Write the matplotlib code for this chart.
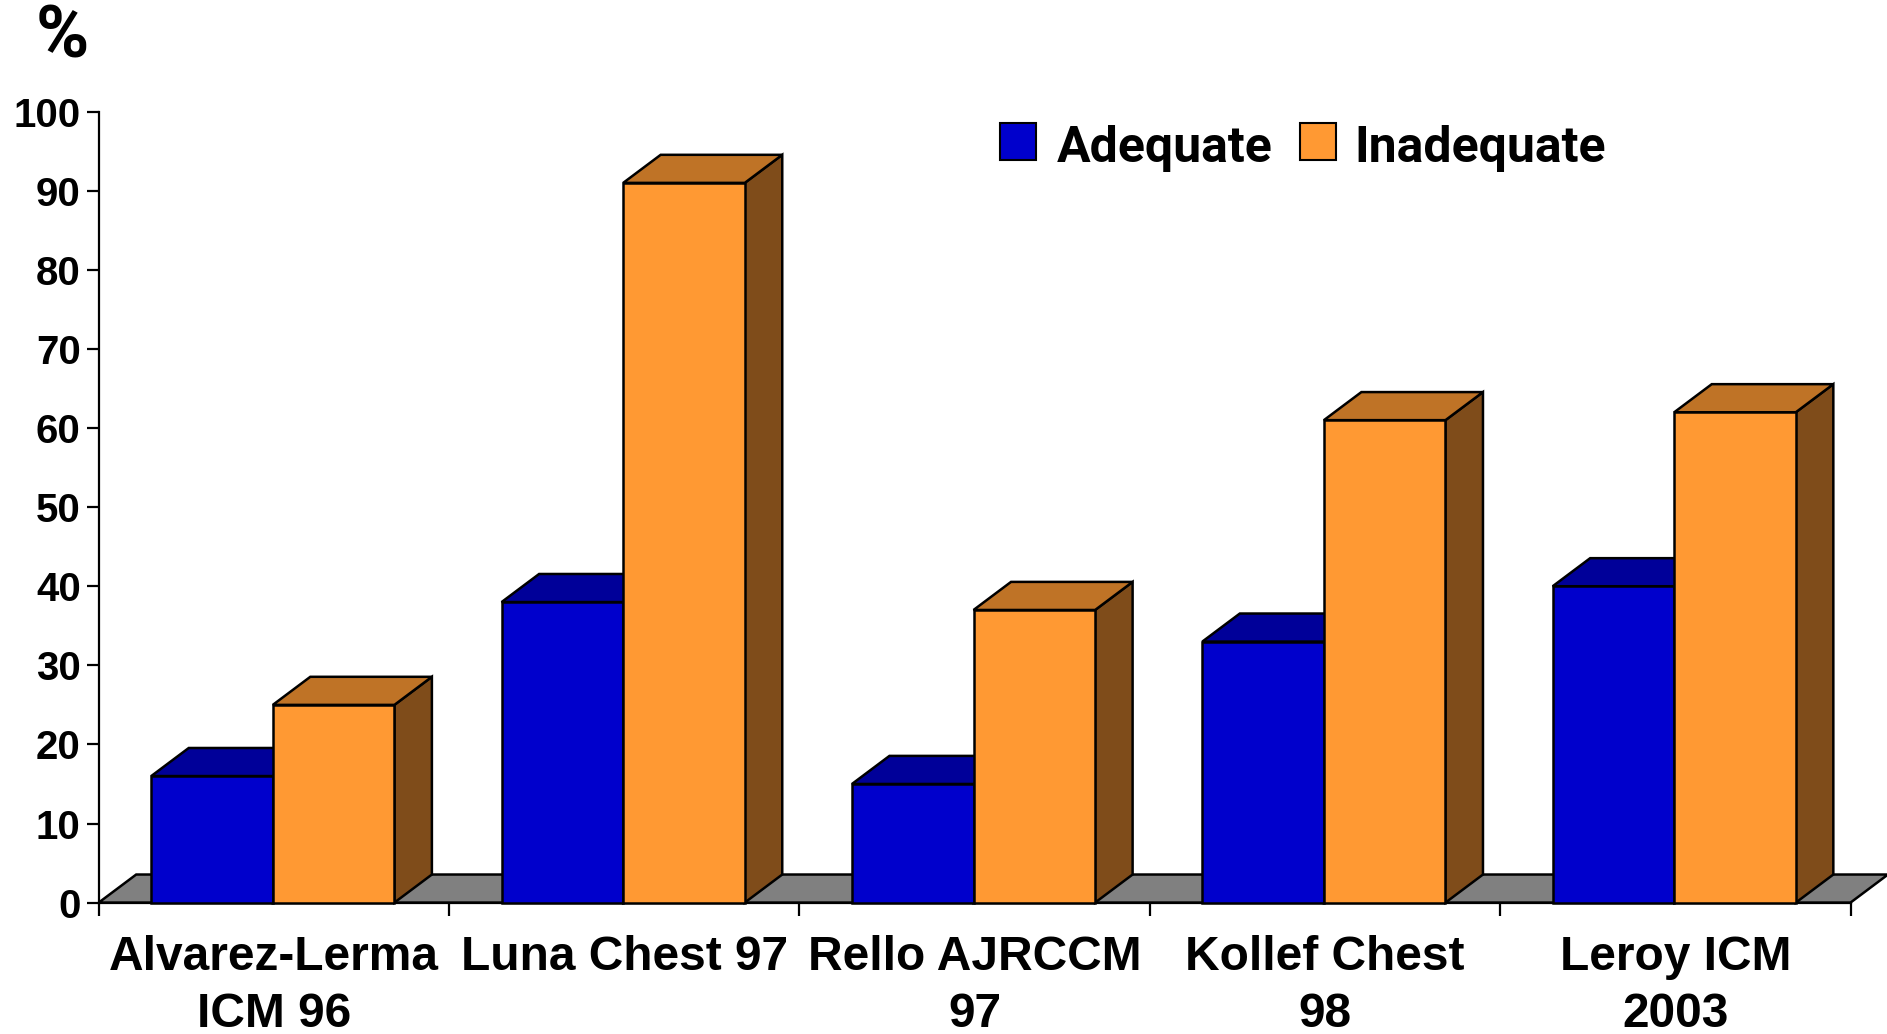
import matplotlib
matplotlib.use("Agg")
import matplotlib.pyplot as plt
from matplotlib.patches import Polygon, Rectangle

# ---- data -------------------------------------------------------------
studies = ["Alvarez-Lerma\nICM 96", "Luna Chest 97", "Rello AJRCCM\n97",
           "Kollef Chest\n98", "Leroy ICM\n2003"]
adequate = [16, 38, 15, 33, 40]
inadequate = [25, 91, 37, 61, 62]
series_names = ["Adequate", "Inadequate"]
y_ticks = [0, 10, 20, 30, 40, 50, 60, 70, 80, 90, 100]

# ---- styling ----------------------------------------------------------
BLUE = {"front": "#0000CC", "top": "#000099", "side": "#000066"}
ORANGE = {"front": "#FF9933", "top": "#BF7326", "side": "#7F4C1A"}
FLOOR = "#808080"
EDGE_LW = 1.8
BAR_OFFSET = 0.150   # gap from category start to first bar (category units)
BAR_W = 0.347        # bar width (category units)
DX = 0.107           # depth offset in x (category units)
DY = 3.55            # depth offset in y (value units)

W_PX, H_PX = 1887, 1034
fig = plt.figure(figsize=(W_PX / 100, H_PX / 100), dpi=100)
x_left, x_right = 98.7, 1850.5
y_top, y_zero = 111.7, 902.6
ax = fig.add_axes([x_left / W_PX, (H_PX - y_zero) / H_PX,
                   (x_right - x_left) / W_PX, (y_zero - y_top) / H_PX])
ax.set_xlim(0, len(studies))
ax.set_ylim(0, 100)
for s in ("top", "right"):
    ax.spines[s].set_visible(False)
for s in ("left", "bottom"):
    ax.spines[s].set_linewidth(1.6)
    ax.spines[s].set_zorder(1)

n = len(studies)

# floor of the 3-D plot area
floor = Polygon([(0, 0), (n, 0), (n + DX, DY), (DX, DY)], closed=True,
                facecolor=FLOOR, edgecolor="black", lw=EDGE_LW,
                joinstyle="miter", clip_on=False, zorder=0.5)
ax.add_patch(floor)


def draw_box(x, w, h, col, z):
    side = Polygon([(x + w, 0), (x + w + DX, DY), (x + w + DX, h + DY), (x + w, h)],
                   closed=True, facecolor=col["side"], edgecolor="black",
                   lw=EDGE_LW, joinstyle="miter", clip_on=False, zorder=z)
    top = Polygon([(x, h), (x + w, h), (x + w + DX, h + DY), (x + DX, h + DY)],
                  closed=True, facecolor=col["top"], edgecolor="black",
                  lw=EDGE_LW, joinstyle="miter", clip_on=False, zorder=z)
    front = Rectangle((x, 0), w, h, facecolor=col["front"], edgecolor="black",
                      lw=EDGE_LW, joinstyle="miter", clip_on=False, zorder=z + 0.01)
    for p in (side, top, front):
        ax.add_patch(p)


z = 2
for i in range(n):
    x0 = i + BAR_OFFSET
    draw_box(x0, BAR_W, adequate[i], BLUE, z)
    z += 0.1
    draw_box(x0 + BAR_W, BAR_W, inadequate[i], ORANGE, z)
    z += 0.1

# axes ticks and labels
tick_font = dict(family=["Liberation Sans", "DejaVu Sans"], weight="bold")
ax.set_yticks(y_ticks)
ax.set_yticklabels([str(v) for v in y_ticks], fontsize=29, **tick_font)
ax.tick_params(axis="y", length=9, width=1.6, pad=4, direction="out")

ax.set_xticks(range(n + 1))
ax.set_xticklabels([""] * (n + 1))
ax.tick_params(axis="x", which="major", length=9.5, width=1.6, direction="out")
ax.set_xticks([i + 0.5 for i in range(n)], minor=True)
ax.set_xticklabels(studies, minor=True, fontsize=34.5, linespacing=1.36,
                   **tick_font)
ax.tick_params(axis="x", which="minor", length=0, pad=23)

# "%" unit label above the value axis
fig.text(62 / W_PX, 1 - 38 / H_PX, "%", fontsize=52, weight="bold",
         family=["Roboto", "DejaVu Sans"], ha="center", va="center")

# legend drawn as swatches + text in figure pixel space
leg_font = dict(family=["Roboto", "DejaVu Sans"], weight="bold", fontsize=36)
swatches = [(1000, 1057, BLUE["front"]), (1300, 1354, ORANGE["front"])]
for (sx, tx, col), name in zip(swatches, series_names):
    fig.patches.append(Rectangle((sx / W_PX, 1 - 160 / H_PX), 36 / W_PX, 37 / H_PX,
                                 transform=fig.transFigure, facecolor=col,
                                 edgecolor="black", lw=1.5))
    fig.text(tx / W_PX, 1 - 148 / H_PX, name, ha="left", va="center", **leg_font)

fig.savefig("out.png", dpi=100, facecolor="white")
